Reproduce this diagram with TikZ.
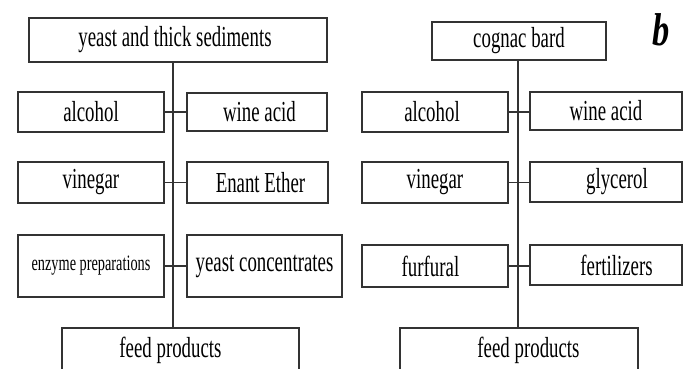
\documentclass[tikz,border=0pt]{standalone}
\usepackage{fontspec}
\usepackage{graphicx}
\setmainfont{Liberation Serif}
\newcommand{\sq}[1]{\scalebox{0.65}[1]{#1}}
\tikzset{
  bx/.style={draw=black!80, line width=1.5pt, inner sep=0pt, fill=white,
             font=\fontsize{29}{32}\selectfont},
  conn/.style={draw=black!80, line width=1.2pt}
}
\begin{document}
\begin{tikzpicture}[x=1pt,y=-1pt]
\useasboundingbox (0,0) rectangle (689,369);
\clip (0,0) rectangle (689,369);
% left tree
\coordinate (lspine) at (173,0);
\node[bx, minimum width=298pt, minimum height=44pt] (ltop) at (178,40) {\hspace*{-6pt}\sq{yeast and thick sediments}};
\node[bx, minimum width=146pt, minimum height=40pt] (la) at (91,112) {\sq{alcohol}};
\node[bx, minimum width=140pt, minimum height=38pt] (lw) at (257,112) {\hspace*{5pt}\sq{wine acid}};
\node[bx, minimum width=146pt, minimum height=41pt] (lv) at (91,182.5) {\sq{vinegar}};
\node[bx, minimum width=141pt, minimum height=41pt] (le) at (257.5,182.5) {\hspace*{6pt}\sq{Enant Ether}};
\node[bx, minimum width=146pt, minimum height=62pt, font=\fontsize{22}{24}\selectfont] (lz) at (91,266) {\raisebox{5pt}{\sq{enzyme preparations}}};
\node[bx, minimum width=155pt, minimum height=62pt] (ly) at (264.5,266) {\raisebox{5pt}{\sq{yeast concentrates}}};
\node[bx, minimum width=237pt, minimum height=45pt] (lf) at (180.5,350.5) {\sq{feed products}\hspace*{20pt}};
\draw[conn] (lspine |- ltop.south) -- (lspine |- lf.north);
\draw[conn] (la.east) -- (lw.west);
\draw[conn] (lv.east) -- (le.west);
\draw[conn] (lz.east) -- (ly.west);
% right tree
\coordinate (rspine) at (518,0);
\node[bx, minimum width=174pt, minimum height=38pt] (rtop) at (519,41) {\sq{cognac bard}};
\node[bx, minimum width=146pt, minimum height=40pt] (ra) at (435,112) {\hspace*{-6pt}\sq{alcohol}};
\node[bx, minimum width=152pt, minimum height=38pt] (rw) at (606,111) {\sq{wine acid}};
\node[bx, minimum width=146pt, minimum height=41pt] (rv) at (435,182.5) {\sq{vinegar}};
\node[bx, minimum width=152pt, minimum height=40pt] (rg) at (606,182) {\hspace*{22pt}\sq{glycerol}};
\node[bx, minimum width=146pt, minimum height=42pt] (rfu) at (435,266) {\hspace*{-9pt}\sq{furfural}};
\node[bx, minimum width=152pt, minimum height=40pt] (rfe) at (606,265) {\hspace*{21pt}\sq{fertilizers}};
\node[bx, minimum width=238pt, minimum height=45pt] (rf) at (519,350.5) {\hspace*{19pt}\sq{feed products}};
\draw[conn] (rspine |- rtop.south) -- (rspine |- rf.north);
\draw[conn] (ra.east) -- (ra.east -| rw.west);
\draw[conn] (rv.east) -- (rv.east -| rg.west);
\draw[conn] (rfu.east) -- (rfu.east -| rfe.west);
% label
\node (lbl) at (661,30) {\fontsize{46}{46}\selectfont\bfseries\itshape\scalebox{0.75}[1]{b}};
\end{tikzpicture}
\end{document}
